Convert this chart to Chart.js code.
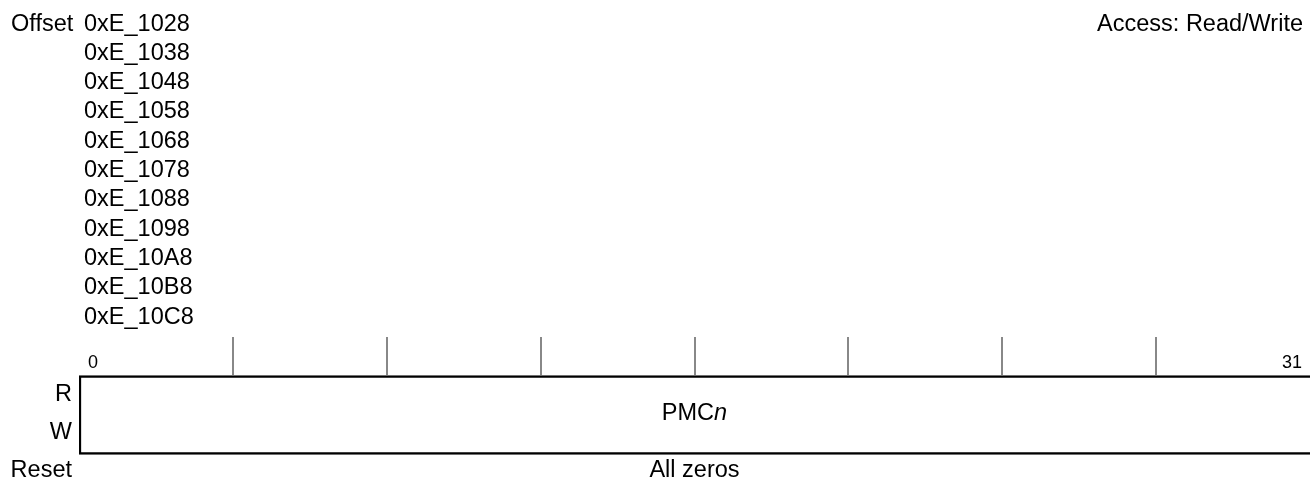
<!DOCTYPE html>
<html>
<head>
<meta charset="utf-8">
<script src="https://cdn.jsdelivr.net/npm/chart.js@4"></script>
<style>
  html, body { margin: 0; padding: 0; background: #fff; }
  #regChart { display: block; }
</style>
</head>
<body>
<canvas id="regChart" width="1310" height="481"></canvas>
<script>
// register data
const offsets = ['0xE_1028', '0xE_1038', '0xE_1048', '0xE_1058', '0xE_1068', '0xE_1078',
                 '0xE_1088', '0xE_1098', '0xE_10A8', '0xE_10B8', '0xE_10C8'];
const accessText = 'Access: Read/Write';
const bitCount = 32;
const bitTicks = [4, 8, 12, 16, 20, 24, 28];      // nibble separators
const bitLabels = [0, 31];
const fieldNames = ['PMC'];
const fieldSuffix = ['n'];                         // italic part
const fieldStart = [0];
const fieldEnd = [31];
const rowLabels = ['R', 'W'];
const resetLabel = 'Reset';
const resetValues = ['All zeros'];

// vertical layout (in y-scale units)
const offsetRowTop = 30.5, offsetRowStep = 29.3;
const rulerTop = 337, rulerBottom = 375;
const boxMid = 415, boxHeight = 79;
const rowLabelY = [401, 439];
const resetY = 477;

const FONT = '"Liberation Sans", Arial, Helvetica, sans-serif';
const BIG = '23.5px ' + FONT;

const textPlugin = {
    id: 'regText',
    afterDatasetsDraw(chart) {
        const ctx = chart.ctx;
        const xs = chart.scales.x, ys = chart.scales.y;
        ctx.save();
        ctx.fillStyle = '#000';
        ctx.textBaseline = 'alphabetic';
        ctx.font = BIG;

        // offsets
        ctx.textAlign = 'left';
        ctx.fillText('Offset', 11, ys.getPixelForValue(offsetRowTop));
        offsets.forEach(function (o, i) {
            ctx.fillText(o, 84, ys.getPixelForValue(offsetRowTop + i * offsetRowStep));
        });
        ctx.textAlign = 'right';
        ctx.fillText(accessText, 1303, ys.getPixelForValue(offsetRowTop));

        // nibble ruler
        ctx.strokeStyle = '#888';
        ctx.lineWidth = 2;
        bitTicks.forEach(function (b) {
            let px = Math.round(xs.getPixelForValue(b));
            ctx.beginPath();
            ctx.moveTo(px, ys.getPixelForValue(rulerTop));
            ctx.lineTo(px, ys.getPixelForValue(rulerBottom));
            ctx.stroke();
        });

        // bit numbers
        ctx.font = '18px ' + FONT;
        ctx.textAlign = 'left';
        ctx.fillText(String(bitLabels[0]), xs.getPixelForValue(bitLabels[0]) + 9, ys.getPixelForValue(368));
        ctx.textAlign = 'right';
        ctx.fillText(String(bitLabels[1]), xs.getPixelForValue(bitLabels[1] + 1) - 8, ys.getPixelForValue(368));

        // row labels
        ctx.font = BIG;
        ctx.textAlign = 'right';
        rowLabels.forEach(function (r, i) {
            ctx.fillText(r, 72, ys.getPixelForValue(rowLabelY[i]));
        });
        ctx.fillText(resetLabel, 72, ys.getPixelForValue(resetY));

        // field names + reset values
        fieldNames.forEach(function (f, i) {
            let cx = (xs.getPixelForValue(fieldStart[i]) + xs.getPixelForValue(fieldEnd[i] + 1)) / 2;
            ctx.font = BIG;
            let w1 = ctx.measureText(f).width;
            ctx.font = 'italic ' + BIG;
            let w2 = ctx.measureText(fieldSuffix[i]).width;
            let x0 = cx - (w1 + w2) / 2;
            ctx.textAlign = 'left';
            ctx.font = BIG;
            ctx.fillText(f, x0, ys.getPixelForValue(420));
            ctx.font = 'italic ' + BIG;
            ctx.fillText(fieldSuffix[i], x0 + w1, ys.getPixelForValue(420));

            ctx.font = BIG;
            ctx.textAlign = 'center';
            ctx.fillText(resetValues[i], cx, ys.getPixelForValue(resetY));
        });
        ctx.restore();
    }
};

new Chart('regChart', {
    type: 'bar',
    data: {
        labels: fieldNames,
        datasets: [{
            label: 'fields',
            data: fieldNames.map(function (f, i) {
                return { x: [fieldStart[i], fieldEnd[i] + 1], y: boxMid };
            }),
            backgroundColor: '#fff',
            borderColor: '#000',
            borderWidth: { top: 2.5, bottom: 2.5, left: 2.5, right: 0 },
            borderSkipped: false,
            barThickness: boxHeight
        }]
    },
    options: {
        indexAxis: 'y',
        responsive: false,
        animation: false,
        devicePixelRatio: 1,
        layout: { padding: { left: 79, right: 0, top: 0, bottom: 0 } },
        plugins: { legend: { display: false }, tooltip: { enabled: false } },
        scales: {
            x: { type: 'linear', min: 0, max: bitCount, display: false, offset: false },
            y: { type: 'linear', min: 0, max: 481, reverse: true, display: false, offset: false }
        }
    },
    plugins: [textPlugin]
});
</script>
</body>
</html>
